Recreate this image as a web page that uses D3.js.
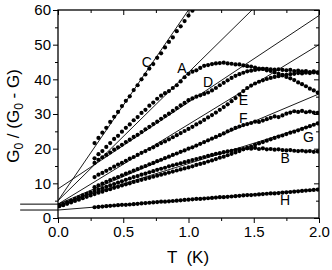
<!DOCTYPE html>
<html>
<head>
<meta charset="utf-8">
<script src="https://cdn.jsdelivr.net/npm/d3@7"></script>
<style>
  body { margin: 0; background: #fff; }
  svg { display: block; font-family: "Liberation Sans", Arial, sans-serif; }
</style>
</head>
<body>
<div class="container"></div>
<script>
// temperatures (K) of the measured points
var temps = [0.01,0.04,0.07,0.10,0.13,0.16,0.19,0.22,0.25,
  0.28,0.31,0.34,0.37,0.40,0.43,0.46,0.49,0.52,0.55,0.58,0.61,0.64,0.67,0.70,0.73,0.76,0.79,0.82,0.85,
  0.88,0.91,0.94,0.97,1.00,1.03,1.06,1.09,1.12,1.15,1.18,1.21,1.24,1.27,1.30,1.33,1.36,1.39,1.42,1.45,
  1.48,1.51,1.54,1.57,1.60,1.63,1.66,1.69,1.72,1.75,1.78,1.81,1.84,1.87,1.90,1.93,1.96,1.99];

var _ = null;
var seriesC = [_,_,_,_,_,_,_,_,_,
  21.6,23.1,24.6,26.0,27.7,29.2,30.6,32.3,33.8,35.1,36.9,38.3,40.0,41.4,43.1,44.4,46.2,47.5,49.2,50.8,
  52.1,53.9,55.3,56.8,58.4,59.8];
var seriesA = [_,_,_,_,_,_,_,_,_,
  17.2,18.4,19.3,20.5,21.6,22.8,23.7,24.9,26.0,27.0,28.2,29.1,30.3,31.2,32.4,33.3,34.4,35.3,36.0,36.6,
  37.5,38.3,39.4,40.6,41.6,42.2,42.6,43.3,43.9,44.1,44.4,44.6,44.7,44.8,44.6,44.5,44.3,44.3,44.0,43.8,
  43.7,43.4,43.1,43.0,42.6,42.4,42.0,41.6,41.3,40.7,40.3,39.8,39.1,38.6,38.0,37.3,36.8,36.2];
var seriesD = [_,_,_,_,_,_,_,_,_,
  15.9,16.8,17.5,18.2,18.9,19.7,20.4,21.1,21.9,22.6,23.4,24.0,24.8,25.6,26.3,27.1,27.8,28.6,29.4,30.1,
  30.9,31.7,32.5,33.2,34.0,34.5,35.0,35.4,35.8,36.2,36.8,37.5,38.3,39.0,39.7,40.4,41.0,41.5,41.9,42.3,
  42.5,42.7,42.9,43.0,43.0,42.9,42.8,42.9,42.7,42.6,42.7,42.4,42.5,42.3,42.4,42.1,42.3,42.0];
var seriesE = [_,_,_,_,_,_,_,_,_,
  11.8,12.5,13.0,13.6,14.2,14.8,15.4,15.9,16.5,17.1,17.6,18.2,18.8,19.3,19.9,20.4,21.0,21.6,22.1,22.7,
  23.3,23.9,24.5,25.1,25.7,26.3,27.0,27.6,28.3,29.0,29.7,30.4,31.2,32.0,32.8,33.7,34.6,35.6,36.6,37.5,
  38.2,38.8,39.3,39.7,40.1,40.4,40.7,40.9,41.1,41.3,41.5,41.6,41.8,41.7,41.9,41.8,42.0,41.9];
var seriesF = [_,_,_,_,_,_,_,_,_,
  8.9,9.4,9.9,10.4,10.9,11.4,11.8,12.3,12.8,13.2,13.7,14.1,14.6,15.0,15.5,15.9,16.4,16.8,17.3,17.7,
  18.2,18.6,19.1,19.5,20.0,20.4,20.9,21.4,21.9,22.4,22.9,23.4,23.9,24.4,25.0,25.5,26.0,26.4,26.8,27.1,
  27.4,27.8,27.7,28.1,28.5,28.9,29.3,29.1,29.6,30.1,30.4,30.8,30.6,30.9,30.5,30.7,30.4,30.3];
var seriesG = [3.4,3.7,4.1,4.5,4.9,5.3,5.7,6.1,6.5,
  6.9,7.3,7.6,8.0,8.3,8.7,9.0,9.4,9.7,10.0,10.4,10.7,11.0,11.3,11.6,11.9,12.2,12.5,12.8,13.1,
  13.4,13.7,14.0,14.3,14.6,14.9,15.3,15.6,15.9,16.3,16.6,17.0,17.4,17.7,18.1,18.5,18.9,19.3,19.8,20.2,
  20.6,21.1,21.5,21.9,22.3,22.7,23.1,23.5,23.8,24.2,24.6,24.9,25.3,25.7,26.1,26.5,26.9,27.3];
var seriesB = [3.6,4.0,4.5,5.0,5.5,6.0,6.5,7.0,7.4,
  7.8,8.2,8.6,9.0,9.4,9.8,10.2,10.6,11.0,11.4,11.8,12.1,12.5,12.8,13.2,13.5,13.9,14.2,14.5,14.9,
  15.2,15.5,15.8,16.1,16.4,16.7,17.0,17.3,17.6,17.9,18.2,18.5,18.7,19.0,19.2,19.4,19.6,19.8,19.9,20.1,
  20.0,20.2,19.9,20.1,19.8,19.9,19.7,19.8,19.6,19.5,19.6,19.4,19.3,19.4,19.2,19.3,19.1,19.2];
var seriesH = [_,_,_,_,_,_,_,_,_,
  3.1,3.2,3.3,3.4,3.5,3.6,3.7,3.8,3.8,3.9,4.0,4.1,4.2,4.3,4.4,4.5,4.6,4.7,4.7,4.8,
  4.9,5.0,5.1,5.2,5.3,5.4,5.5,5.5,5.6,5.7,5.8,5.9,6.0,6.0,6.1,6.2,6.3,6.4,6.5,6.6,
  6.6,6.7,6.8,6.9,7.0,7.1,7.1,7.2,7.3,7.4,7.5,7.6,7.7,7.8,7.9,8.0,8.1,8.2];

// straight-line fits: G0/(G0-G) = a + b*T
var fitNames = ["C", "A", "D", "E", "F", "G", "H"];
var fitIntercepts = [5.0, 5.0, 8.4, 4.0, 4.0, 4.0, 2.3];
var fitSlopes = [55.0, 37.0, 25.0, 23.0, 15.9, 11.7, 3.0];

// short horizontal marks left of the axis
var stubValues = [4.0, 2.3];

var xTicks = [0, 0.5, 1.0, 1.5, 2.0];
var yTicks = [0, 10, 20, 30, 40, 50, 60];
var xMinor = [0.25, 0.75, 1.25, 1.75];
var yMinor = [5, 15, 25, 35, 45, 55];

var series = [
  {name: "A", values: seriesA}, {name: "B", values: seriesB}, {name: "C", values: seriesC},
  {name: "D", values: seriesD}, {name: "E", values: seriesE}, {name: "F", values: seriesF},
  {name: "G", values: seriesG}, {name: "H", values: seriesH}
];

// where the curve letters sit, in data units
var labelSpots = {
  C: [0.68, 45.0], A: [0.95, 43.3], D: [1.15, 39.2], E: [1.42, 34.0],
  F: [1.42, 28.8], G: [1.92, 23.4], B: [1.74, 17.3], H: [1.74, 5.2]
};

const WIDTH = 332;
const HEIGHT = 270;
const LEFT = 58, RIGHT = 319, TOP = 10, BOTTOM = 218;

var translate = function (x, y) {
  return "translate(" + x + "," + y + ")";
};

var svg = d3.select(".container").append("svg")
  .attr("width", WIDTH)
  .attr("height", HEIGHT);

var xScale = d3.scaleLinear().domain([0, 2]).range([LEFT, RIGHT]);
var yScale = d3.scaleLinear().domain([0, 60]).range([BOTTOM, TOP]);

svg.append("clipPath").attr("id", "plotClip")
  .append("rect")
  .attr("x", LEFT).attr("y", TOP)
  .attr("width", RIGHT - LEFT).attr("height", BOTTOM - TOP);

// fit lines
var fitLine = d3.line()
  .x(function (d) { return xScale(d[0]); })
  .y(function (d) { return yScale(d[1]); });

var fitGroup = svg.append("g").attr("clip-path", "url(#plotClip)");
fitNames.forEach(function (name, i) {
  var ends = [0, 2].map(function (t) { return [t, fitIntercepts[i] + fitSlopes[i] * t]; });
  fitGroup.append("path")
    .datum(ends)
    .attr("d", fitLine)
    .attr("fill", "none")
    .attr("stroke", "#000")
    .attr("stroke-width", 0.9);
});

svg.selectAll(".stub")
  .data(stubValues)
  .enter().append("line")
  .attr("class", "stub")
  .attr("x1", xScale(-0.29)).attr("x2", xScale(0))
  .attr("y1", function (d) { return yScale(d); })
  .attr("y2", function (d) { return yScale(d); })
  .attr("stroke", "#000")
  .attr("stroke-width", 1);

// measured points
var dotGroup = svg.append("g").attr("clip-path", "url(#plotClip)");
series.forEach(function (s) {
  var pts = temps.map(function (t, i) { return [t, s.values[i]]; })
    .filter(function (p) { return p[1] != null; });
  dotGroup.selectAll(null)
    .data(pts)
    .enter().append("circle")
    .attr("cx", function (d) { return xScale(d[0]); })
    .attr("cy", function (d) { return yScale(d[1]); })
    .attr("r", 2.1)
    .attr("fill", "#000");
});

// axes
var axisBottom = d3.axisBottom(xScale).tickValues(xTicks).tickFormat(d3.format(".1f")).tickSize(5).tickPadding(3);
var axisLeft = d3.axisLeft(yScale).tickValues(yTicks).tickFormat(d3.format("d")).tickSize(5).tickPadding(2);

svg.append("g").attr("transform", translate(0, BOTTOM)).call(axisBottom);
svg.append("g").attr("transform", translate(LEFT, 0)).call(axisLeft);

// minor ticks
svg.append("g").attr("transform", translate(0, BOTTOM))
  .call(d3.axisBottom(xScale).tickValues(xMinor).tickSize(3).tickFormat(""));
svg.append("g").attr("transform", translate(LEFT, 0))
  .call(d3.axisLeft(yScale).tickValues(yMinor).tickSize(3).tickFormat(""));

// mirrored ticks, pointing inward
svg.append("g").attr("transform", translate(0, TOP))
  .call(d3.axisBottom(xScale).tickValues(xTicks).tickSize(5).tickFormat(""));
svg.append("g").attr("transform", translate(0, TOP))
  .call(d3.axisBottom(xScale).tickValues(xMinor).tickSize(3).tickFormat(""));
svg.append("g").attr("transform", translate(RIGHT, 0))
  .call(d3.axisLeft(yScale).tickValues(yTicks).tickSize(5).tickFormat(""));
svg.append("g").attr("transform", translate(RIGHT, 0))
  .call(d3.axisLeft(yScale).tickValues(yMinor).tickSize(3).tickFormat(""));

svg.selectAll(".domain").remove();
svg.selectAll(".tick line").attr("stroke", "#000").attr("stroke-width", 1);
svg.selectAll(".tick text").attr("fill", "#000").style("font-size", "15px")
  .style("font-family", "'Liberation Sans', Arial, sans-serif");

svg.append("rect")
  .attr("x", LEFT).attr("y", TOP)
  .attr("width", RIGHT - LEFT).attr("height", BOTTOM - TOP)
  .attr("fill", "none")
  .attr("stroke", "#000")
  .attr("stroke-width", 1.3);

// curve letters
Object.keys(labelSpots).forEach(function (k) {
  svg.append("text")
    .attr("x", xScale(labelSpots[k][0]))
    .attr("y", yScale(labelSpots[k][1]))
    .attr("text-anchor", "middle")
    .attr("dominant-baseline", "central")
    .style("font-size", "14px")
    .text(k);
});

// axis titles
svg.append("text")
  .attr("x", 188).attr("y", 263)
  .attr("text-anchor", "middle")
  .style("font-size", "17px")
  .style("white-space", "pre")
  .text("T  (K)");

var yTitle = svg.append("text")
  .attr("transform", translate(19, 116) + " rotate(-90)")
  .attr("text-anchor", "middle")
  .style("font-size", "17px")
  .style("white-space", "pre");
yTitle.append("tspan").text("G");
yTitle.append("tspan").attr("dy", 4).style("font-size", "12px").text("0");
yTitle.append("tspan").attr("dy", -4).text(" / (G");
yTitle.append("tspan").attr("dy", 4).style("font-size", "12px").text("0");
yTitle.append("tspan").attr("dy", -4).text(" - G)");
</script>
</body>
</html>
